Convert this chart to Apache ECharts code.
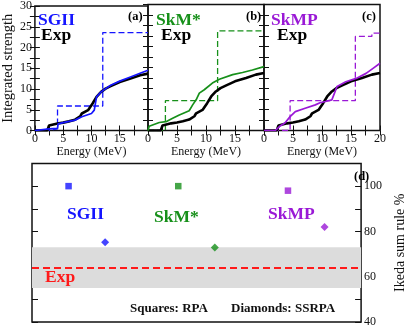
<!DOCTYPE html>
<html><head><meta charset="utf-8">
<script src="https://cdn.jsdelivr.net/npm/echarts@6/dist/echarts.min.js"></script>
<style>html,body{margin:0;padding:0;background:#fff}#c{width:415px;height:328px}</style>
</head><body><div id="c"></div>
<script>
// ---- Data ----
const expE = [0, 2.2, 2.5, 2.8, 4, 5, 6, 7.1, 8, 8.3, 9.4, 10.2, 10.9, 11.7, 12.5, 13.4, 15, 16.9, 18.6, 20];
const expS = [0, 0, 1.2, 1.5, 1.7, 1.9, 2.2, 2.6, 3.4, 4.1, 4.9, 6.5, 8.1, 9.3, 10.1, 10.7, 11.7, 12.5, 13.3, 13.7];

const sgiiE = [0, 2.5, 4, 4.1, 5, 7.1, 8.3, 10, 10.5, 10.9, 11.7, 13.4, 15, 16.9, 18.6, 20];
const sgiiS = [0, 0.4, 0.5, 1.6, 1.9, 2.5, 3.3, 4.1, 4.9, 8.1, 9.3, 10.9, 11.9, 12.9, 13.8, 14.5];
const sgiiRpaE = [0, 2.4, 4, 12, 20];
const sgiiRpaS = [0, 0.4, 5.9, 23.6, 23.6];

const skmE = [0, 0.2, 1.95, 3.1, 4.25, 5.4, 7.1, 7.7, 8.3, 8.85, 9.7, 11.1, 12.3, 14.6, 16.3, 18, 20];
const skmS = [0, 1.0, 1.9, 2.1, 2.9, 3.7, 4.7, 6.1, 7.3, 8.9, 9.7, 11.3, 12.2, 13.3, 13.8, 14.4, 15.2];
const skmRpaE = [0, 3, 12, 20];
const skmRpaS = [0, 7.1, 23.7, 23.7];

const skmpE = [0, 1.95, 2.7, 3.6, 4.5, 5.4, 7.1, 8.85, 9.65, 10.6, 11.7, 12.6, 14.1, 15.9, 17.6, 18.8, 20];
const skmpS = [0, 0, 1.0, 1.8, 3.3, 4.5, 5.3, 6.1, 6.6, 6.9, 7.3, 10.5, 11.6, 12.4, 13.6, 14.8, 16.0];
const skmpRpaE = [0, 4.5, 15.75, 18.6, 20];
const skmpRpaS = [0, 7.1, 22.4, 23.2, 23.2];

const models = ['SGII', 'SkM*', 'SkMP'];
const ikedaRPA = [100, 100, 98];
const ikedaSSRPA = [75.2, 72.9, 82];
const expIkeda = 64;
const expBand = [55, 73];
const xTickLabels = [0, 5, 10, 15, 20];
const ikedaTickLabels = [40, 60, 80, 100];

// ---- Styling ----
const F = 'Liberation Serif';
const colors = ['#1515ff', '#17901a', '#9a19d6'];
const zip = (a, b) => a.map((v, i) => [v, b[i]]);

const grids = [
  {left: 32, top: 4.5, width: 116, height: 126},
  {left: 148, top: 4.5, width: 116, height: 126},
  {left: 264, top: 4.5, width: 116, height: 126},
  {left: 32, top: 163.5, width: 348, height: 159.5}
].map(g => Object.assign({show: true, borderColor: '#111', borderWidth: 1.5, backgroundColor: 'transparent'}, g));

const tick = {show: true, inside: true, length: 5, lineStyle: {color: '#111', width: 1}};
const minor = {show: true, splitNumber: 2, length: 5, lineStyle: {color: '#111', width: 1}};
const noLine = {show: false};
const xAxis = [], yAxis = [];
for (let i = 0; i < 3; i++) {
  xAxis.push({type: 'value', gridIndex: i, min: 0, max: 20, interval: 5, position: 'bottom',
    axisLine: noLine, splitLine: {show: false}, axisTick: tick, minorTick: minor,
    axisLabel: {fontFamily: F, fontSize: 12, color: '#111', margin: 2,
      formatter: v => (xTickLabels.includes(v) && (i === 2 || v < 20)) ? String(v) : ''},
    name: 'Energy (MeV)', nameLocation: 'middle', nameGap: 15,
    nameTextStyle: {fontFamily: F, fontSize: 12, color: '#111'}});
  xAxis.push({type: 'value', gridIndex: i, min: 0, max: 20, interval: 5, position: 'top',
    axisLine: noLine, splitLine: {show: false}, axisTick: tick, minorTick: minor, axisLabel: {show: false}});
  yAxis.push({type: 'value', gridIndex: i, min: 0, max: 30, interval: 5, position: 'left',
    axisLine: noLine, splitLine: {show: false}, axisTick: tick, minorTick: minor,
    axisLabel: {show: i === 0, fontFamily: F, fontSize: 12, color: '#111', margin: 3},
    name: i === 0 ? 'Integrated strength' : '', nameLocation: 'middle', nameGap: 15, nameRotate: 90,
    nameTextStyle: {fontFamily: F, fontSize: 14.5, color: '#111'}});
  yAxis.push({type: 'value', gridIndex: i, min: 0, max: 30, interval: 5, position: 'right',
    axisLine: noLine, splitLine: {show: false}, axisTick: tick, minorTick: minor, axisLabel: {show: false}});
}
// panel d
xAxis.push({type: 'value', gridIndex: 3, min: 0, max: 9, show: false});
yAxis.push({type: 'value', gridIndex: 3, min: 40, max: 110, interval: 10, position: 'left',
  axisLine: noLine, splitLine: {show: false}, axisTick: Object.assign({}, tick, {length: 6}), axisLabel: {show: false}});
yAxis.push({type: 'value', gridIndex: 3, min: 40, max: 110, interval: 10, position: 'right',
  axisLine: noLine, splitLine: {show: false}, axisTick: Object.assign({}, tick, {length: 6}),
  axisLabel: {fontFamily: F, fontSize: 12, color: '#111', margin: 3,
    formatter: v => ikedaTickLabels.includes(v) ? String(v) : ''},
  name: 'Ikeda sum rule %', nameLocation: 'middle', nameGap: 24, nameRotate: 90,
  nameTextStyle: {fontFamily: F, fontSize: 14, color: '#111'}});

const series = [];
const theo = [[sgiiE, sgiiS, sgiiRpaE, sgiiRpaS], [skmE, skmS, skmRpaE, skmRpaS], [skmpE, skmpS, skmpRpaE, skmpRpaS]];
theo.forEach((t, i) => {
  const base = {type: 'line', xAxisIndex: 2 * i, yAxisIndex: 2 * i, symbol: 'none', silent: true, animation: false};
  series.push(Object.assign({}, base, {data: zip(t[2], t[3]), step: 'end',
    lineStyle: {color: colors[i], width: 1.3, type: [6, 3]}, z: 2}));
  series.push(Object.assign({}, base, {data: zip(expE, expS), lineStyle: {color: '#000', width: 2.6}, z: 3}));
  series.push(Object.assign({}, base, {data: zip(t[0], t[1]), lineStyle: {color: colors[i], width: 1.7}, z: 4}));
});
// panel d
series.push({type: 'scatter', xAxisIndex: 6, yAxisIndex: 6, silent: true, animation: false, symbol: 'rect', symbolSize: 6.5,
  data: ikedaRPA.map((v, i) => ({value: [3 * i + 1, v], itemStyle: {color: colors[i]}})), z: 5,
  markArea: {silent: true, itemStyle: {color: '#dcdcdc'}, data: [[{yAxis: expBand[0]}, {yAxis: expBand[1]}]]},
  markLine: {silent: true, symbol: 'none', label: {show: false}, lineStyle: {color: '#ff1a1a', width: 2, type: [7, 4]},
    data: [{yAxis: expIkeda}]}});
series.push({type: 'scatter', xAxisIndex: 6, yAxisIndex: 6, silent: true, animation: false, symbol: 'diamond', symbolSize: 8,
  data: ikedaSSRPA.map((v, i) => ({value: [3 * i + 2, v], itemStyle: {color: colors[i]}})), z: 5});

const txt = (text, x, y, size, color, bold) => ({type: 'text', left: x, top: y, z: 100, silent: true,
  style: {text, font: (bold ? 'bold ' : '') + size + 'px "' + F + '"', fill: color}});
const graphic = [
  txt('SGII', 38, 11, 17.5, colors[0], true), txt('Exp', 41, 26, 17.5, '#000', true), txt('(a)', 128, 10, 12.5, '#000', true),
  txt('SkM*', 156, 11, 17.5, colors[1], true), txt('Exp', 161, 26, 17.5, '#000', true), txt('(b)', 246, 10, 12.5, '#000', true),
  txt('SkMP', 271, 11, 17.5, colors[2], true), txt('Exp', 277, 26, 17.5, '#000', true), txt('(c)', 362, 10, 12.5, '#000', true),
  txt(models[0], 67, 205, 17.5, colors[0], true), txt(models[1], 154, 208, 17.5, colors[1], true),
  txt(models[2], 268, 205, 17.5, colors[2], true), txt('Exp', 45, 268, 17.5, '#ff1a1a', true),
  txt('(d)', 354, 170, 12.5, '#000', true),
  txt('Squares: RPA', 130, 302, 13, '#111', true), txt('Diamonds: SSRPA', 231, 302, 13, '#111', true)
];

const chart = echarts.init(document.getElementById('c'), null, {renderer: 'canvas'});
chart.setOption({animation: false, grid: grids, xAxis, yAxis, series, graphic});
</script></body></html>
